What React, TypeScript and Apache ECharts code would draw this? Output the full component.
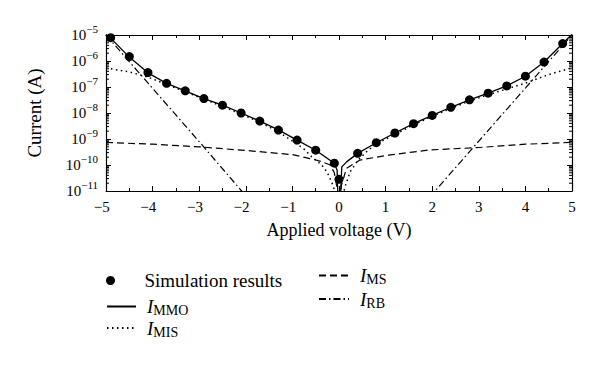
import React, { useEffect, useRef } from "react";
import * as echarts from "echarts";

// Simulation results (filled circles)
const simVoltage = [-4.9, -4.5, -4.1, -3.7, -3.3, -2.9, -2.5, -2.1, -1.7, -1.3, -0.9, -0.5, -0.1, 0, 0.4, 0.8, 1.2, 1.6, 2.0, 2.4, 2.8, 3.2, 3.6, 4.0, 4.4, 4.8];
const simCurrent = [7.9e-6, 1.48e-6, 3.6e-7, 1.38e-7, 7.1e-8, 3.6e-8, 2.0e-8, 1.0e-8, 4.9e-9, 2.2e-9, 9.1e-10, 3.7e-10, 1.17e-10, 2.8e-11, 2.8e-10, 7.2e-10, 1.7e-9, 3.9e-9, 8.1e-9, 1.66e-8, 3.2e-8, 5.8e-8, 1.1e-7, 2.6e-7, 9.1e-7, 4.7e-6];

// I_MMO (solid)
const mmoVoltage = [-5, -4.9, -4.5, -4.1, -3.7, -3.3, -2.9, -2.5, -2.1, -1.7, -1.3, -0.9, -0.5, -0.1, -0.04, -0.01, 0.01, 0.06, 0.17, 0.4, 0.8, 1.2, 1.6, 2.0, 2.4, 2.8, 3.2, 3.6, 4.0, 4.4, 4.8, 5];
const mmoCurrent = [1.07e-5, 7.6e-6, 1.41e-6, 3.5e-7, 1.38e-7, 7.1e-8, 3.6e-8, 2.0e-8, 1.0e-8, 4.9e-9, 2.24e-9, 9.1e-10, 3.7e-10, 1.17e-10, 6.3e-11, 1e-12, 1e-12, 8.5e-11, 1.35e-10, 2.8e-10, 7.2e-10, 1.7e-9, 3.9e-9, 8.1e-9, 1.66e-8, 3.2e-8, 5.8e-8, 1.1e-7, 2.6e-7, 9.1e-7, 4.7e-6, 1.07e-5];

// I_MIS (dotted)
const misVoltage = [-5, -4.5, -4.1, -3.7, -3.3, -2.9, -2.5, -2.1, -1.7, -1.3, -0.9, -0.77, -0.59, -0.37, -0.26, -0.16, -0.09, -0.05, 0.05, 0.13, 0.24, 0.41, 0.63, 0.84, 1.2, 1.6, 2.0, 2.4, 2.8, 3.2, 3.6, 4.0, 4.5, 5];
const misCurrent = [5.4e-7, 3.8e-7, 2.4e-7, 1.26e-7, 6.6e-8, 3.4e-8, 1.8e-8, 9.1e-9, 4.4e-9, 1.9e-9, 6.3e-10, 4.4e-10, 2.1e-10, 1.0e-10, 5.5e-11, 2.3e-11, 1.0e-11, 3.2e-12, 3.2e-12, 1.48e-11, 5.5e-11, 1.55e-10, 3.8e-10, 7.1e-10, 1.5e-9, 3.5e-9, 7.4e-9, 1.5e-8, 2.9e-8, 5.0e-8, 8.5e-8, 1.41e-7, 3.0e-7, 5.5e-7];

// I_MS (dashed)
const msVoltage = [-5, -4, -3, -1.9, -1, -0.55, -0.37, -0.19, -0.1, -0.03, -0.01, 0.01, 0.05, 0.16, 0.45, 1.06, 1.95, 3, 4, 5];
const msCurrent = [7.4e-10, 6.3e-10, 5.0e-10, 3.5e-10, 2.5e-10, 1.66e-10, 1.35e-10, 1.0e-10, 5.0e-11, 1.0e-11, 1e-12, 1e-12, 1.6e-11, 7.4e-11, 1.55e-10, 2.4e-10, 3.8e-10, 4.7e-10, 6.3e-10, 7.4e-10];

// I_RB (dash-dot)
const rbVoltage = [-5, -4, -3, -2.09, -1.5, 1.5, 2.06, 3, 4, 5];
const rbCurrent = [1e-5, 8.9e-8, 7.9e-10, 1e-11, 6.3e-13, 6.3e-13, 1e-11, 8.3e-10, 9.1e-8, 1e-5];

// Axis settings
const xMin = -5;
const xMax = 5;
const yMinExp = -11;
const yMaxExp = -5;

const legendLabels: Record<string, string> = {
  "Simulation results": "{t|Simulation results}",
  IMMO: "{i|I}{s|MMO}",
  IMIS: "{i|I}{s|MIS}",
  IMS: "{i|I}{s|MS}",
  IRB: "{i|I}{s|RB}",
};

const FONT = "Liberation Serif";
const HIDDEN = "rgba(0,0,0,0)";

function zip(xs: number[], ys: number[]) {
  return xs.map((x, i) => [x, ys[i]]);
}

export default function App() {
  const ref = useRef<HTMLDivElement>(null);

  useEffect(() => {
    if (!ref.current) return;
    const chart = echarts.init(ref.current, undefined, { renderer: "svg" });

    const minorTickValues: number[][] = [];
    for (let e = yMinExp; e < yMaxExp; e++) {
      for (let k = 2; k <= 9; k++) minorTickValues.push([xMin, k * Math.pow(10, e)]);
    }

    const legendRich = {
      t: { fontFamily: FONT, fontSize: 19, lineHeight: 22, color: "#000", padding: [0, 0, 0, 20] },
      i: { fontFamily: FONT, fontSize: 19, lineHeight: 22, fontStyle: "italic", color: "#000", padding: [0, 0, 0, 6] },
      s: { fontFamily: FONT, fontSize: 14, lineHeight: 14, verticalAlign: "bottom", color: "#000" },
    };

    const axisCommonX = {
      type: "value",
      min: xMin,
      max: xMax,
      interval: 1,
      splitLine: { show: false },
      axisLine: { onZero: false, lineStyle: { color: "#000", width: 1.2 } },
      axisTick: { inside: true, length: 5, lineStyle: { color: "#000", width: 1 } },
      minorTick: { show: true, splitNumber: 2, length: 3, lineStyle: { color: "#000", width: 1 } },
      minorSplitLine: { show: false },
    };
    const axisCommonY = {
      type: "log",
      logBase: 10,
      min: Math.pow(10, yMinExp),
      max: Math.pow(10, yMaxExp),
      splitNumber: 6,
      splitLine: { show: false },
      axisLine: { onZero: false, lineStyle: { color: "#000", width: 1.2 } },
      axisTick: { inside: true, length: 5, lineStyle: { color: "#000", width: 1 } },
    };

    const lineLegendStyle = { color: HIDDEN, borderColor: HIDDEN, opacity: 0 };

    const option: any = {
      animation: false,
      backgroundColor: "#fff",
      textStyle: { fontFamily: FONT, color: "#000" },
      grid: { left: 106, right: 28, top: 35, bottom: 174 },
      legend: [
        {
          data: ["Simulation results"],
          left: 106,
          top: 271,
          padding: 0,
          itemWidth: 18,
          itemHeight: 9,
          selectedMode: false,
          formatter: (n: string) => legendLabels[n],
          textStyle: { rich: legendRich },
        },
        {
          data: ["IMMO", "IMIS"],
          orient: "vertical",
          left: 106,
          top: 297,
          padding: 0,
          itemGap: 1,
          itemWidth: 29,
          itemHeight: 9,
          selectedMode: false,
          itemStyle: lineLegendStyle,
          formatter: (n: string) => legendLabels[n],
          textStyle: { rich: legendRich },
        },
        {
          data: ["IMS", "IRB"],
          orient: "vertical",
          left: 318,
          top: 266,
          padding: 0,
          itemGap: 3,
          itemWidth: 30,
          itemHeight: 9,
          selectedMode: false,
          itemStyle: lineLegendStyle,
          formatter: (n: string) => legendLabels[n],
          textStyle: { rich: legendRich },
        },
      ],
      xAxis: [
        {
          ...axisCommonX,
          position: "bottom",
          name: "Applied voltage (V)",
          nameLocation: "middle",
          nameGap: 30,
          nameTextStyle: { fontFamily: FONT, fontSize: 18, color: "#000" },
          axisLabel: {
            margin: 8,
            formatter: (v: number) => (v < 0 ? `{n|\u2212${-v}}` : `{p|${v}}`),
            rich: {
              n: { fontFamily: FONT, fontSize: 15, color: "#000", padding: [0, 8.5, 0, 0] },
              p: { fontFamily: FONT, fontSize: 15, color: "#000" },
            },
          },
        },
        { ...axisCommonX, position: "top", axisLabel: { show: false } },
      ],
      yAxis: [
        {
          ...axisCommonY,
          position: "left",
          name: "Current (A)",
          nameLocation: "middle",
          nameGap: 62,
          nameTextStyle: { fontFamily: FONT, fontSize: 19, color: "#000" },
          axisLabel: {
            margin: 8,
            formatter: (v: number) => {
              const e = Math.round(Math.log10(v));
              return `{b|10}{e|\u2212${-e}}`;
            },
            rich: {
              b: { fontFamily: FONT, fontSize: 15, lineHeight: 24, color: "#000" },
              e: { fontFamily: FONT, fontSize: 11, lineHeight: 11, verticalAlign: "top", color: "#000" },
            },
          },
        },
        { ...axisCommonY, position: "right", axisLabel: { show: false } },
      ],
      series: [
        {
          name: "minor",
          type: "custom",
          silent: true,
          xAxisIndex: 0,
          yAxisIndex: 0,
          data: minorTickValues,
          renderItem: (params: any, api: any) => {
            const y = api.value(1);
            const pl = api.coord([xMin, y]);
            const pr = api.coord([xMax, y]);
            return {
              type: "group",
              children: [
                { type: "line", shape: { x1: pl[0], y1: pl[1], x2: pl[0] + 3, y2: pl[1] }, style: { stroke: "#000", lineWidth: 1 } },
                { type: "line", shape: { x1: pr[0], y1: pr[1], x2: pr[0] - 3, y2: pr[1] }, style: { stroke: "#000", lineWidth: 1 } },
              ],
            };
          },
        },
        {
          name: "IRB",
          type: "line",
          data: zip(rbVoltage, rbCurrent),
          symbol: "none",
          lineStyle: { color: "#000", width: 1.2, type: [7, 3, 1.5, 3] },
          itemStyle: { color: HIDDEN },
        },
        {
          name: "IMS",
          type: "line",
          data: zip(msVoltage, msCurrent),
          symbol: "none",
          lineStyle: { color: "#000", width: 1.2, type: [7, 4] },
          itemStyle: { color: HIDDEN },
        },
        {
          name: "IMIS",
          type: "line",
          data: zip(misVoltage, misCurrent),
          symbol: "none",
          lineStyle: { color: "#000", width: 1.5, type: [1.5, 3.5] },
          itemStyle: { color: HIDDEN },
        },
        {
          name: "IMMO",
          type: "line",
          data: zip(mmoVoltage, mmoCurrent),
          symbol: "none",
          lineStyle: { color: "#000", width: 1.3 },
          itemStyle: { color: HIDDEN },
        },
        {
          name: "Simulation results",
          type: "scatter",
          data: zip(simVoltage, simCurrent),
          symbol: "circle",
          symbolSize: 9,
          itemStyle: { color: "#000", opacity: 1 },
          z: 5,
        },
      ],
    };

    chart.setOption(option);
    return () => chart.dispose();
  }, []);

  return (
    <div
      ref={ref}
      style={{ position: "absolute", left: 0, top: 0, width: 600, height: 365 }}
    />
  );
}
